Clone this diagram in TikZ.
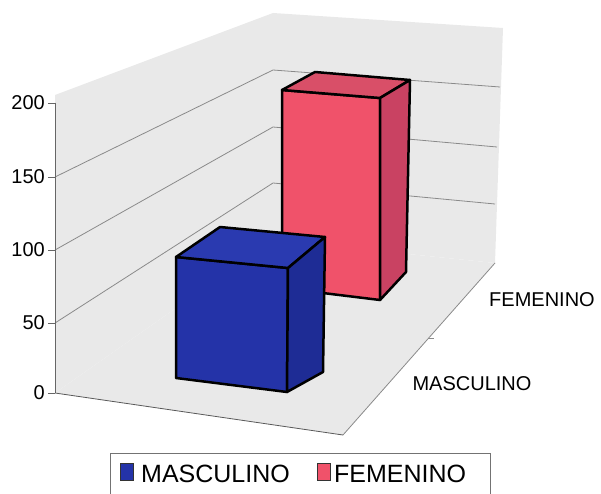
\documentclass[tikz,border=0pt]{standalone}
\usepackage{fontspec}
\setmainfont{Liberation Sans}
\definecolor{wallc}{HTML}{E9E9E9}
\definecolor{gridc}{HTML}{8A8A8A}
\definecolor{bluefront}{HTML}{2433A8}
\definecolor{bluetop}{HTML}{2A3AB0}
\definecolor{blueside}{HTML}{1E2C95}
\definecolor{redfront}{HTML}{F0526A}
\definecolor{redtop}{HTML}{D94F68}
\definecolor{redside}{HTML}{C94262}
\tikzset{
  wall/.style={fill=wallc, draw=none},
  gridline/.style={draw=gridc, line width=0.8pt},
  barface/.style={draw=black, line width=2.5pt, line join=round},
  ticklabel/.style={font=\fontsize{20}{22}\selectfont, anchor=east, inner sep=0pt},
  catlabel/.style={font=\fontsize{20}{22}\selectfont, inner sep=0pt},
  legtext/.style={font=\fontsize{25}{28}\selectfont, anchor=base west, inner sep=0pt},
  legkey/.style={draw=black!80, line width=0.8pt}
}
\begin{document}
\begin{tikzpicture}[x=1pt,y=-1pt]
\useasboundingbox (0,0) rectangle (601,494);
% corners
\coordinate (LF0) at (55,393);
\coordinate (LFtop) at (55,95);
\coordinate (LF200) at (55,103);
\coordinate (LB200) at (273,13);
\coordinate (LB0) at (273,240);
\coordinate (RB200) at (503,28);
\coordinate (RB0) at (495,263);
\coordinate (RF0) at (343,435);
% walls and floor
\fill[wall] (LF0) -- (LFtop) -- (LB200) -- (LB0) -- cycle;
\fill[wall] (LB200) -- (RB200) -- (RB0) -- (LB0) -- cycle;
\fill[wall] (LF0) -- (LB0) -- (RB0) -- (RF0) -- cycle;
% grid lines
\coordinate (L50) at (55,323);  \coordinate (B50) at (273,183);  \coordinate (R50) at (495,204);
\coordinate (L100) at (55,250); \coordinate (B100) at (273,127); \coordinate (R100) at (497,147);
\coordinate (L150) at (55,177); \coordinate (B150) at (273,70);  \coordinate (R150) at (500,87);
\draw[gridline] (L50) -- (B50) -- (R50);
\draw[gridline] (L100) -- (B100) -- (R100);
\draw[gridline] (L150) -- (B150) -- (R150);
% axes
\draw[gridline, draw=black!60] (LF200) -- (LF0);
\draw[gridline, draw=black!65] (LF0) -- (RF0);
\draw[gridline] (RF0) -- (RB0);
\coordinate (TK) at (428,338);
\coordinate (TKe) at (434,338);
\draw[gridline] (TK) -- (TKe);
% ticks and labels
\foreach \y/\v in {103/200,177/150,250/100,323/50,393/0}{
  \draw[gridline, draw=black!60] (48,\y) -- (55,\y);
  \node[ticklabel] (t\v) at (45,\y) {\v};
}
\node[catlabel] (cfem) at (542,300) {FEMENINO};
\node[catlabel] (cmas) at (472,384) {MASCULINO};
% red bar
\coordinate (rFTL) at (282,90);
\coordinate (rFTR) at (380,98);
\coordinate (rFBR) at (380,300);
\coordinate (rFBL) at (282,288);
\coordinate (rBTL) at (315,72);
\coordinate (rBTR) at (410,80);
\coordinate (rBBR) at (406,272);
\filldraw[barface, fill=redfront] (rFTL) -- (rFTR) -- (rFBR) -- (rFBL) -- cycle;
\filldraw[barface, fill=redtop] (rFTL) -- (rBTL) -- (rBTR) -- (rFTR) -- cycle;
\filldraw[barface, fill=redside] (rFTR) -- (rBTR) -- (rBBR) -- (rFBR) -- cycle;
% blue bar
\coordinate (bFTL) at (176,257);
\coordinate (bFTR) at (288,268);
\coordinate (bFBR) at (287,392);
\coordinate (bFBL) at (176,378);
\coordinate (bBTL) at (220,227);
\coordinate (bBTR) at (325,237);
\coordinate (bBBR) at (323,372);
\filldraw[barface, fill=bluefront] (bFTL) -- (bFTR) -- (bFBR) -- (bFBL) -- cycle;
\filldraw[barface, fill=bluetop] (bFTL) -- (bBTL) -- (bBTR) -- (bFTR) -- cycle;
\filldraw[barface, fill=blueside] (bFTR) -- (bBTR) -- (bBBR) -- (bFBR) -- cycle;
% legend
\draw[draw=black!55, line width=0.8pt] (110,453) rectangle (490,497);
\filldraw[legkey, fill=bluefront] (120,463) rectangle (133,480);
\node[legtext] (lmas) at (141,482) {MASCULINO};
\filldraw[legkey, fill=redfront] (317,463) rectangle (330,480);
\node[legtext] (lfem) at (334,482) {FEMENINO};
\end{tikzpicture}
\end{document}
